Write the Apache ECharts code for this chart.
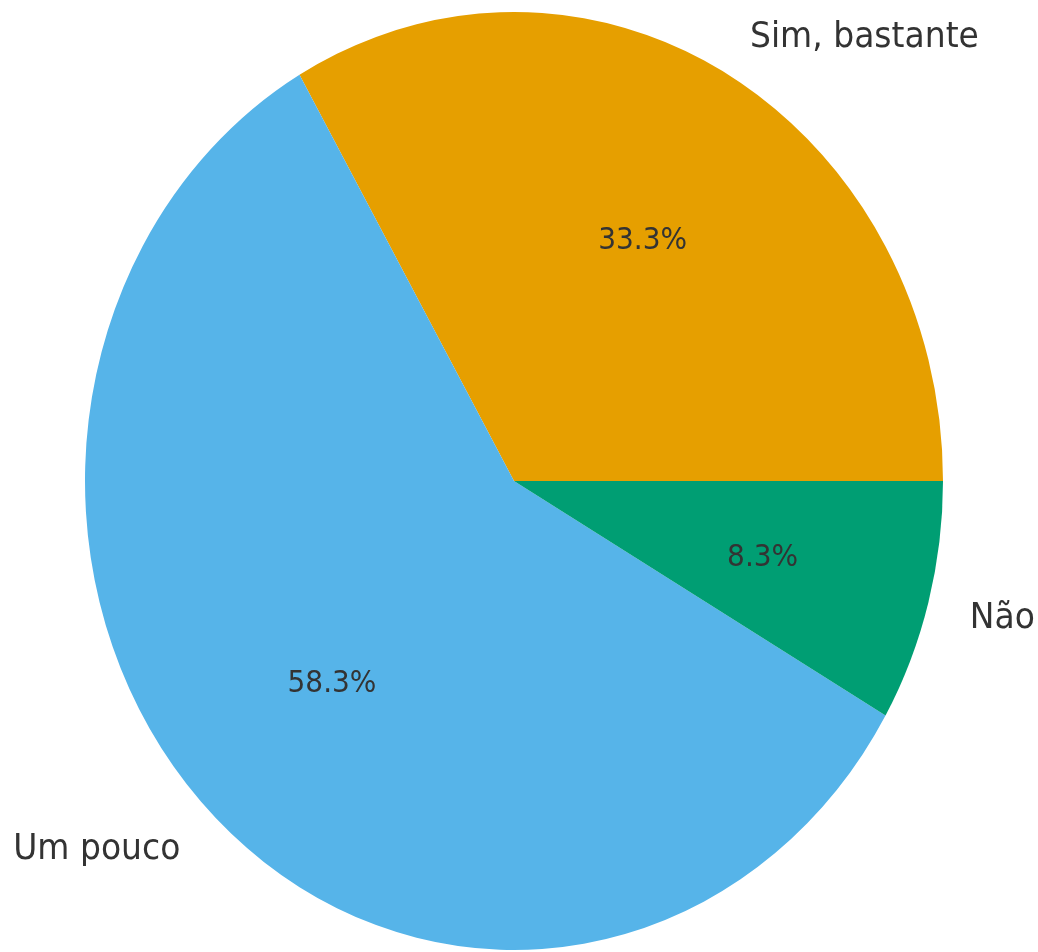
<!DOCTYPE html>
<html>
<head>
<meta charset="utf-8">
<script src="https://cdn.jsdelivr.net/npm/echarts@6/dist/echarts.min.js"></script>
<style>
html,body{margin:0;padding:0;background:#fff;}
#chart{width:1038px;height:952px;}
</style>
</head>
<body>
<div id="chart"></div>
<script>
// Data
var categories = ['Sim, bastante', 'Um pouco', 'Não'];
var counts = [4, 7, 1];
var colors = ['#E69F00', '#56B4E9', '#009E73'];

var total = counts.reduce(function (a, b) { return a + b; }, 0);
var starts = [];
(function () { var acc = 0; for (var i = 0; i < counts.length; i++) { starts.push(acc); acc += counts[i]; } })();

var CX = 514, CY = 481, R = 429, SY = 469 / 429;
var FONT = 'DejaVu Sans';
var TEXT_DY = 3.5;

var chart = echarts.init(document.getElementById('chart'), null, { renderer: 'canvas' });

chart.setOption({
  backgroundColor: '#ffffff',
  animation: false,
  series: [{
    type: 'custom',
    coordinateSystem: 'none',
    data: counts.map(function (v, i) { return { value: [v, starts[i]], name: categories[i] }; }),
    renderItem: function (params, api) {
      var i = params.dataIndex;
      var v = api.value(0), s = api.value(1);
      var a0 = s / total * Math.PI * 2;
      var a1 = (s + v) / total * Math.PI * 2;
      var mid = (a0 + a1) / 2;
      var cosm = Math.cos(mid), sinm = Math.sin(mid);
      var pct = (v / total * 100).toFixed(1) + '%';
      return {
        type: 'group',
        x: CX, y: CY,
        scaleX: 1, scaleY: SY,
        children: [{
          type: 'sector',
          shape: { cx: 0, cy: 0, r0: 0, r: R, startAngle: -a1, endAngle: -a0, clockwise: true },
          style: { fill: colors[i] }
        }, {
          type: 'text',
          x: 1.1 * R * cosm, y: -1.1 * R * sinm + TEXT_DY,
          style: {
            text: categories[i],
            fill: '#333333',
            font: '33px "' + FONT + '"',
            align: cosm >= 0 ? 'left' : 'right',
            verticalAlign: 'middle'
          }
        }, {
          type: 'text',
          x: 0.6 * R * cosm, y: -0.6 * R * sinm + TEXT_DY,
          style: {
            text: pct,
            fill: '#333333',
            font: '28px "' + FONT + '"',
            align: 'center',
            verticalAlign: 'middle'
          }
        }]
      };
    }
  }]
});
</script>
</body>
</html>
